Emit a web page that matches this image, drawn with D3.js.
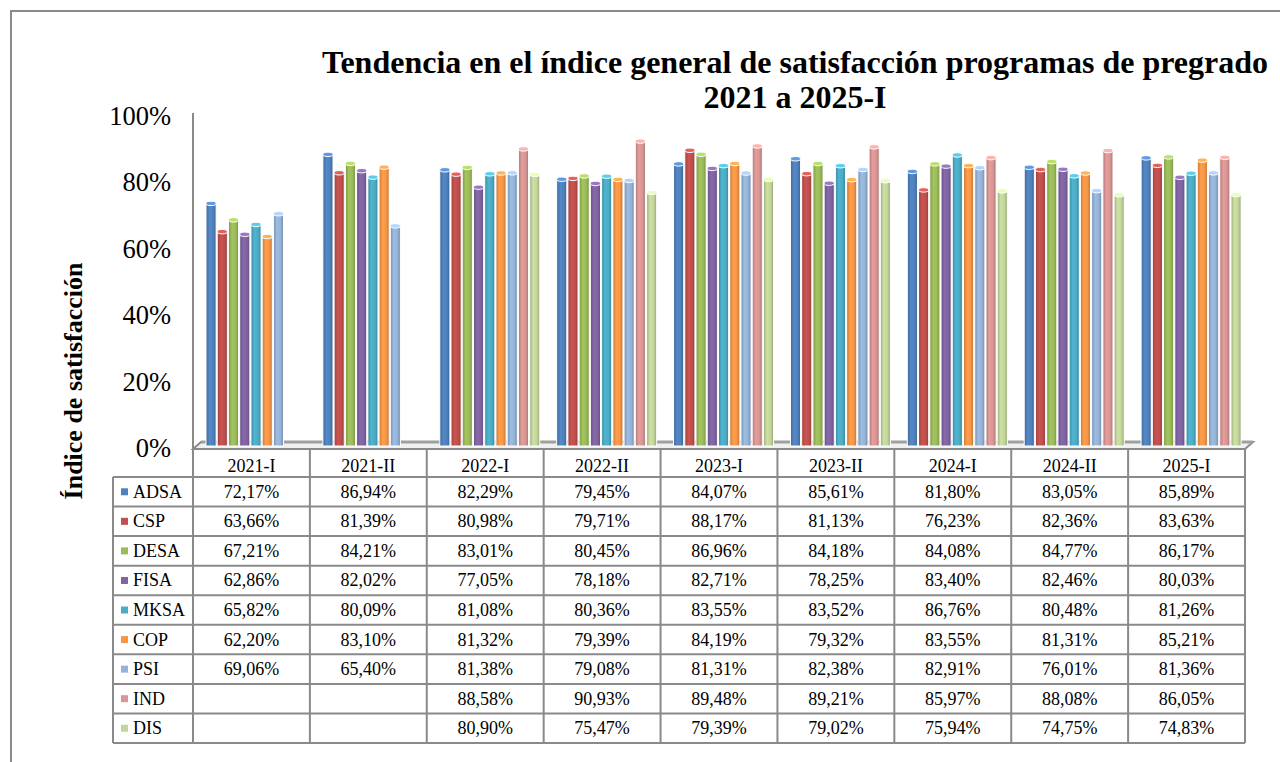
<!DOCTYPE html>
<html><head><meta charset="utf-8">
<script src="https://cdn.jsdelivr.net/npm/d3@7"></script>
<style>
html,body{margin:0;padding:0;background:#fff;}
svg{display:block;}
svg text{font-family:"Liberation Serif","Times New Roman",serif;}
</style></head>
<body><svg id="c" width="1280" height="762"></svg>
<script>
const categories = ["2021-I","2021-II","2022-I","2022-II","2023-I","2023-II","2024-I","2024-II","2025-I"];
const seriesNames = ["ADSA","CSP","DESA","FISA","MKSA","COP","PSI","IND","DIS"];
const ADSA = [72.17,86.94,82.29,79.45,84.07,85.61,81.80,83.05,85.89];
const CSP  = [63.66,81.39,80.98,79.71,88.17,81.13,76.23,82.36,83.63];
const DESA = [67.21,84.21,83.01,80.45,86.96,84.18,84.08,84.77,86.17];
const FISA = [62.86,82.02,77.05,78.18,82.71,78.25,83.40,82.46,80.03];
const MKSA = [65.82,80.09,81.08,80.36,83.55,83.52,86.76,80.48,81.26];
const COP  = [62.20,83.10,81.32,79.39,84.19,79.32,83.55,81.31,85.21];
const PSI  = [69.06,65.40,81.38,79.08,81.31,82.38,82.91,76.01,81.36];
const IND  = [null,null,88.58,90.93,89.48,89.21,85.97,88.08,86.05];
const DIS  = [null,null,80.90,75.47,79.39,79.02,75.94,74.75,74.83];
const seriesColors = ["#4f81bd","#c0504d","#9bbb59","#8064a2","#4bacc6","#f79646","#95b3d7","#d99694","#c3d69b"];
const yTicks = [0,20,40,60,80,100];
const titleLines = ["Tendencia en el índice general de satisfacción programas de pregrado","2021 a 2025-I"];
const yTitle = "Índice de satisfacción";

const seriesValues = [ADSA,CSP,DESA,FISA,MKSA,COP,PSI,IND,DIS];
const svg = d3.select("#c");
const grey = "#8a8a8a";

svg.append("path").attr("d","M11,762 L11,11 L1280,11").attr("fill","none").attr("stroke",grey).attr("stroke-width",2);

const x0 = d3.scaleBand().domain(categories).range([193,1245]).padding(0);
const x1 = d3.scaleBand().domain(seriesNames).range([13,113]).paddingInner(0.1).paddingOuter(0);
const yFront = d3.scaleLinear().domain([0,100]).range([448,116]);
const yBack = d3.scaleLinear().domain([0,100]).range([443,111]);

const defs = svg.append("defs");
seriesColors.forEach((c,i)=>{
  const g = defs.append("linearGradient").attr("id","g"+i).attr("x1","0").attr("x2","1").attr("y1","0").attr("y2","0");
  const base = d3.color(c);
  g.append("stop").attr("offset","0%").attr("stop-color",base.darker(0.6));
  g.append("stop").attr("offset","35%").attr("stop-color",base.brighter(0.15));
  g.append("stop").attr("offset","70%").attr("stop-color",base);
  g.append("stop").attr("offset","100%").attr("stop-color",base.darker(0.7));
});

svg.append("g").selectAll("text").data(titleLines).join("text")
  .attr("x",795).attr("y",(d,i)=>73+i*35).attr("text-anchor","middle")
  .attr("font-weight","bold").attr("font-size",32).text(d=>d);

svg.append("text").attr("transform","translate(82,381) rotate(-90)").attr("text-anchor","middle")
  .attr("font-weight","bold").attr("font-size",26).text(yTitle);

svg.append("g").selectAll("text").data(yTicks).join("text")
  .attr("x",171).attr("y",d=>yFront(d)+9).attr("text-anchor","end").attr("font-size",26.5)
  .text(d=>d+"%");

svg.append("polygon").attr("points",`193,449 201,442 1253,442 1245,449`)
  .attr("fill","#f0f0f0").attr("stroke",grey).attr("stroke-width",2);
svg.append("line").attr("x1",201).attr("x2",1253).attr("y1",442).attr("y2",442).attr("stroke","#a0a0a0").attr("stroke-width",3);
svg.append("line").attr("x1",193).attr("x2",193).attr("y1",113).attr("y2",449).attr("stroke",grey).attr("stroke-width",2);

const bars = [];
categories.forEach((c,ci)=>{
  seriesValues.forEach((arr,si)=>{
    if(arr[ci]!=null) bars.push({c, s:seriesNames[si], si, v:arr[ci]});
  });
});
const bw = x1.bandwidth();
const bar = svg.append("g").selectAll("g").data(bars).join("g")
  .attr("transform",d=>`translate(${x0(d.c)+x1(d.s)},0)`);
bar.append("rect").attr("x",0).attr("y",d=>yBack(d.v)).attr("width",bw)
  .attr("height",d=>yBack(0)+3-yBack(d.v)).attr("fill",d=>`url(#g${d.si})`)
  .attr("stroke","#fff").attr("stroke-width",1);
bar.append("ellipse").attr("cx",bw/2).attr("cy",d=>yBack(d.v)).attr("rx",bw/2).attr("ry",2.2)
  .attr("fill",d=>d3.color(seriesColors[d.si]).brighter(0.5)).attr("stroke","#fff").attr("stroke-width",1);

const rowTop = 477, rowH = 29.56;
const tg = svg.append("g");
tg.selectAll("text.h").data(categories).join("text").attr("class","h")
  .attr("x",d=>x0(d)+x0.bandwidth()/2).attr("y",472).attr("text-anchor","middle").attr("font-size",18).text(d=>d);
const fmt = v => v==null ? "" : v.toFixed(2).replace(".",",")+"%";
seriesNames.forEach((s,si)=>{
  const cy = rowTop + rowH*si + rowH/2;
  tg.append("rect").attr("x",121).attr("y",cy-3.5).attr("width",7).attr("height",7).attr("fill",seriesColors[si]);
  tg.append("text").attr("x",133).attr("y",cy+6).attr("font-size",18).text(s);
  tg.selectAll(null).data(categories).join("text")
    .attr("x",d=>x0(d)+x0.bandwidth()/2).attr("y",cy+6).attr("text-anchor","middle").attr("font-size",18)
    .text((d,ci)=>fmt(seriesValues[si][ci]));
});
const bottom = rowTop + rowH*9;
for(let i=0;i<=9;i++){
  const y = rowTop + rowH*i;
  tg.append("line").attr("x1",113).attr("x2",1245).attr("y1",y).attr("y2",y).attr("stroke",grey).attr("stroke-width",2);
}
tg.append("line").attr("x1",113).attr("x2",113).attr("y1",rowTop).attr("y2",bottom).attr("stroke",grey).attr("stroke-width",2);
categories.forEach(c=>{
  tg.append("line").attr("x1",x0(c)).attr("x2",x0(c)).attr("y1",449).attr("y2",bottom).attr("stroke",grey).attr("stroke-width",2);
});
tg.append("line").attr("x1",1245).attr("x2",1245).attr("y1",449).attr("y2",bottom).attr("stroke",grey).attr("stroke-width",2);
</script></body></html>
